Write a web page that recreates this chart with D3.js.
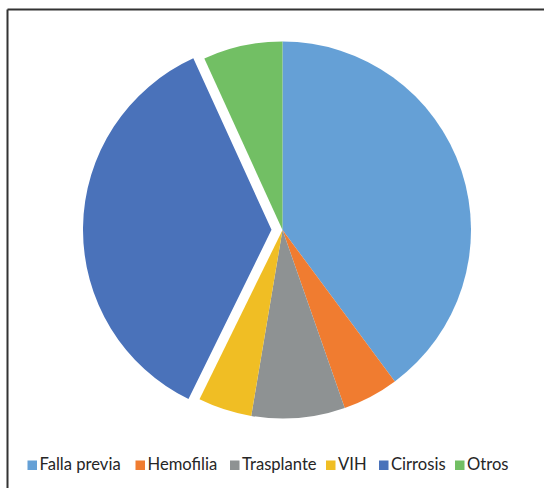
<!DOCTYPE html>
<html><head><meta charset="utf-8">
<script src="https://cdn.jsdelivr.net/npm/d3@7"></script>
<style>body{margin:0;background:#fff}svg{display:block}</style>
</head><body>
<svg id="c" width="544" height="488"></svg>
<script>
const categories = ["Falla previa","Hemofilia","Trasplante","VIH","Cirrosis","Otros"];
const values = [39.8, 4.8, 8.0, 4.6, 35.9, 6.8];
const colors = ["#65A0D6","#F07C30","#8E9293","#F0BE24","#4A72BA","#72BF64"];
const exploded = ["Cirrosis"];

const svg = d3.select("#c");
// frame
svg.append("line").attr("x1",7.5).attr("y1",9.5).attr("x2",544).attr("y2",9.5).attr("stroke","#333").attr("stroke-width",2);
svg.append("line").attr("x1",7.5).attr("y1",9.5).attr("x2",7.5).attr("y2",488).attr("stroke","#333").attr("stroke-width",2);

const cx = 282.5, cy = 230, r = 188.5, off = 11;
const color = d3.scaleOrdinal().domain(categories).range(colors);
const data = categories.map((c,i)=>({cat:c, v:values[i]}));
const pie = d3.pie().value(d=>d.v).sort(null);
const arc = d3.arc().innerRadius(0).outerRadius(r);
const g = svg.append("g").attr("transform",`translate(${cx},${cy})`);
g.selectAll("path").data(pie(data)).join("path")
  .attr("d", arc)
  .attr("fill", d=>color(d.data.cat))
  .attr("transform", d=>{
    if(!exploded.includes(d.data.cat)) return null;
    const a = (d.startAngle+d.endAngle)/2;
    return `translate(${off*Math.sin(a)},${-off*Math.cos(a)})`;
  });

// legend
const legX = [27.5, 135.5, 230, 326, 379, 455];
const lg = svg.append("g").attr("font-family","Lato, 'Open Sans', sans-serif").attr("font-size",16.6).attr("fill","#262626");
categories.forEach((c,i)=>{
  lg.append("rect").attr("x",legX[i]).attr("y",460.5).attr("width",9.5).attr("height",9.5).attr("fill",color(c));
  lg.append("text").attr("x",legX[i]+12).attr("y",470).text(c);
});
</script>
</body></html>
